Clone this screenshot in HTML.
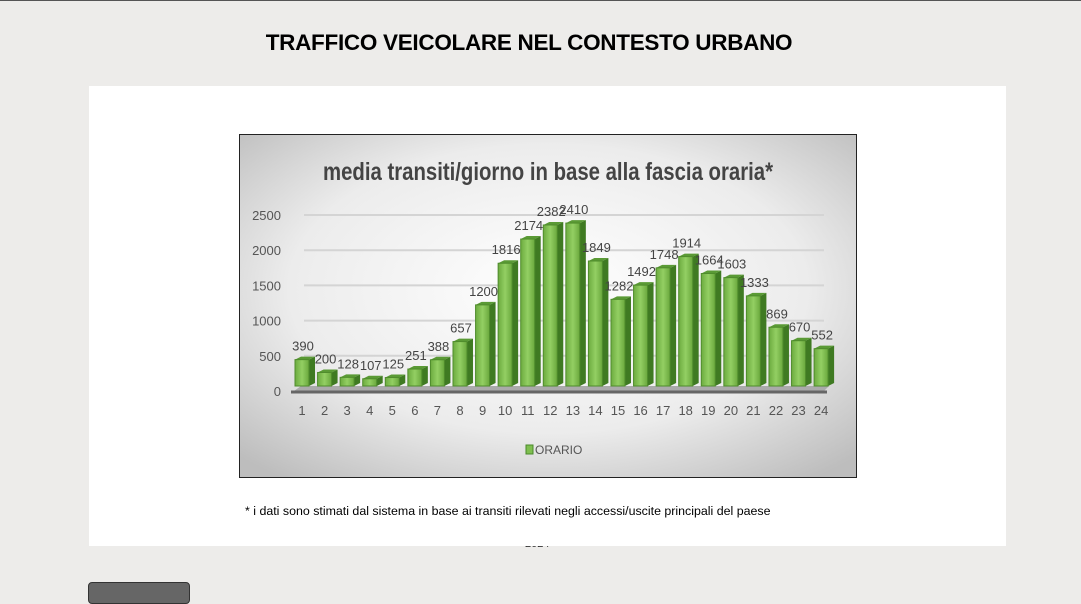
<!DOCTYPE html>
<html><head><meta charset="utf-8"><style>
body{margin:0;width:1081px;height:592px;background:#edecea;font-family:"Liberation Sans",sans-serif;overflow:hidden;position:relative}
#topline{position:absolute;left:0;top:0;width:1081px;height:1px;background:#555}
h1{position:absolute;left:0;width:1058px;top:30px;margin:0;text-align:center;font-size:22.5px;font-weight:bold;color:#000;letter-spacing:-0.3px}
#panel{position:absolute;left:89px;top:86px;width:917px;height:460px;background:#fff}
#yr{position:absolute;left:525px;top:538px;font-size:11px;color:#333}
#note{position:absolute;left:245px;top:504px;font-size:12.4px;color:#000}
#btn{position:absolute;left:88px;top:582px;width:100px;height:20px;background:#666;border:1px solid #333;border-radius:4px}
svg{position:absolute;left:239px;top:134px}
</style></head><body>
<div id="topline"></div>
<h1>TRAFFICO VEICOLARE NEL CONTESTO URBANO</h1>
<div id="yr">2024</div>
<div id="panel"></div>
<svg id="chart" width="618" height="344">
<defs>
<radialGradient id="bg" cx="0.5" cy="0.45" r="0.7"><stop offset="0" stop-color="#ffffff"/><stop offset="0.6" stop-color="#ececec"/><stop offset="1" stop-color="#bdbdbd"/></radialGradient>
<linearGradient id="front" x1="0" x2="1"><stop offset="0" stop-color="#6cab3f"/><stop offset="0.5" stop-color="#93cf63"/><stop offset="1" stop-color="#6aa83d"/></linearGradient>
</defs>
<rect x="0.5" y="0.5" width="617" height="343" fill="url(#bg)" stroke="#222"/>
<text x="84" y="46" textLength="450" lengthAdjust="spacingAndGlyphs" font-size="25" font-weight="bold" fill="#444">media transiti/giorno in base alla fascia oraria*</text>
<g id="grid"></g><g id="bars"></g><g id="labels"></g>
<rect x="287" y="311" width="7" height="9" fill="#7fbf50" stroke="#4a8a2a"/>
<text x="296" y="320" font-size="12" fill="#555">ORARIO</text>
</svg>
<div id="note">* i dati sono stimati dal sistema in base ai transiti rilevati negli accessi/uscite principali del paese</div>
<div id="btn"></div>
<script>
const categories=["1","2","3","4","5","6","7","8","9","10","11","12","13","14","15","16","17","18","19","20","21","22","23","24"];
const values=[390,200,128,107,125,251,388,657,1200,1816,2174,2382,2410,1849,1282,1492,1748,1914,1664,1603,1333,869,670,552];
const yTicks=[0,500,1000,1500,2000,2500];
const NS="http://www.w3.org/2000/svg";
const g=document.getElementById('grid'),b=document.getElementById('bars'),l=document.getElementById('labels');
function mk(t,a,p){const e=document.createElementNS(NS,t);for(const k in a)e.setAttribute(k,a[k]);p.appendChild(e);return e;}
const yGrid=v=>257-v*0.0704;
const yBar=v=>252-v*0.0676;
const xc=i=>63+i*22.57;
yTicks.forEach(t=>{
 if(t>0){const ln=mk('line',{x1:65,x2:585,y1:yGrid(t),y2:yGrid(t),stroke:'#d4d4d4','stroke-width':2},g);
 
 }
 const tx=mk('text',{x:42,y:yGrid(t)+5,'text-anchor':'end','font-size':13,fill:'#555'},g);tx.textContent=t;
 
 
});
const fl=mk('polygon',{points:'55,257 585,257 590,252 62,252',fill:'#aaa'},g);


const ax=mk('line',{x1:52,x2:588,y1:258,y2:258,stroke:'#666','stroke-width':3},g);


values.forEach((v,i)=>{
 const x=xc(i)-7,w=14,top=yBar(v),bot=252;
 const s=mk('polygon',{points:`${x+w},${bot} ${x+w+6},${bot-3} ${x+w+6},${top-3} ${x+w},${top}`,fill:'#3f7a22'},b);
 
 
 const tp=mk('polygon',{points:`${x},${top} ${x+6},${top-3} ${x+w+6},${top-3} ${x+w},${top}`,fill:'#5a9a35'},b);
 
 
 const r=mk('rect',{x:x,y:top,width:w,height:bot-top,fill:'url(#front)',stroke:'#4f8c2c','stroke-width':1},b);
 
 
 const t=mk('text',{x:xc(i)+1,y:top-9,'text-anchor':'middle','font-size':13,fill:'#444'},l);t.textContent=v;
 
 
 const c=mk('text',{x:xc(i),y:281,'text-anchor':'middle','font-size':13,fill:'#555'},l);c.textContent=categories[i];
 
 
});
</script>
</body></html>
